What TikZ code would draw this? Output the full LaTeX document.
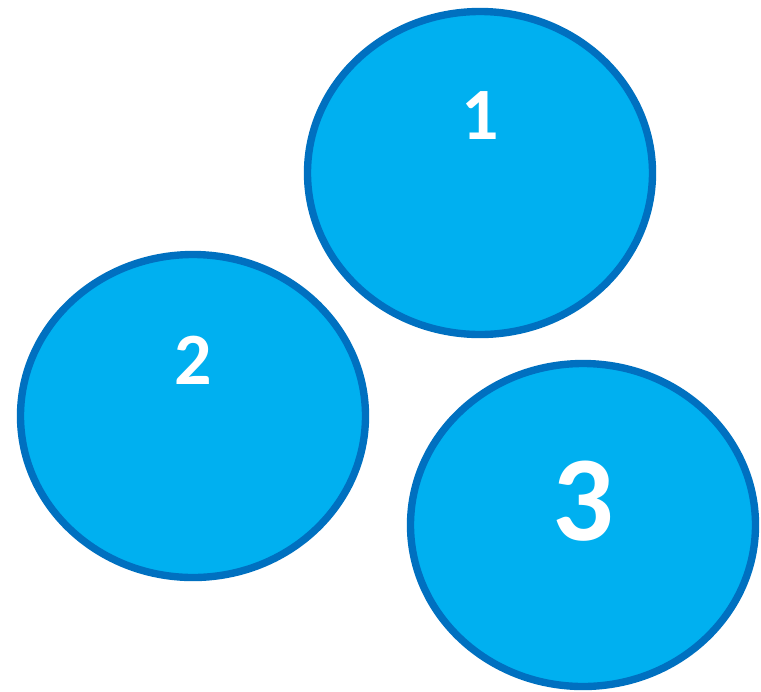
\documentclass[tikz,border=0pt]{standalone}
\usepackage{fontspec}
\setmainfont{Carlito}
\usepackage{xcolor}
\usetikzlibrary{shapes.geometric,positioning}
\definecolor{discfill}{HTML}{00B0F0}
\definecolor{discedge}{HTML}{0070C0}
\tikzstyle{disc} = [ellipse, draw=discedge, fill=discfill, line width=4.2pt,
                    minimum width=6.9cm, minimum height=6.46cm, inner sep=0pt]
\tikzstyle{num}  = [text=white, font=\fontsize{42}{42}\selectfont\bfseries,
                    inner sep=0pt]

\begin{document}
\begin{tikzpicture}
\useasboundingbox (0,0) rectangle (15.22,-13.82);
% Discs
\node[disc] (d1) at (9.60,-3.46) {};
\node[disc] (d2) at (3.86,-8.32) {};
\node[disc] (d3) at (11.66,-10.50) {};
% Numbers
\node[num] (n1) at ([yshift=1.14cm] d1.center) {1};
\node[num] (n2) at ([yshift=1.12cm] d2.center) {2};
\node[num, font=\fontsize{69}{69}\selectfont\bfseries] (n3)
  at ([yshift=0.48cm] d3.center) {3};
\end{tikzpicture}
\end{document}
